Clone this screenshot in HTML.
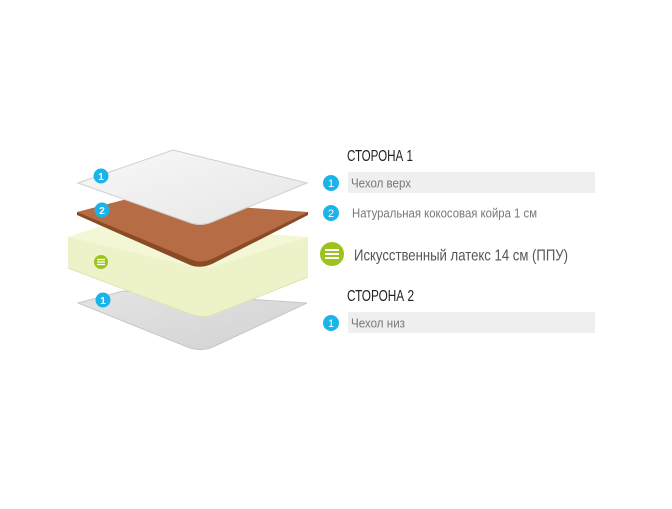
<!DOCTYPE html>
<html><head><meta charset="utf-8"><style>
body{margin:0;width:672px;height:504px;background:#fff;overflow:hidden;font-family:"Liberation Sans",sans-serif}
</style></head><body>
<svg width="672" height="504" viewBox="0 0 672 504" xmlns="http://www.w3.org/2000/svg">
<defs>
<linearGradient id="wt" x1="0" y1="0" x2="1" y2="1"><stop offset="0" stop-color="#f8f8f8"/><stop offset="1" stop-color="#e6e6e6"/></linearGradient>
<linearGradient id="bt" x1="0" y1="0" x2="1" y2="1"><stop offset="0" stop-color="#e4e4e4"/><stop offset="1" stop-color="#d2d2d2"/></linearGradient>
</defs>
<path d="M78,303 L123,291 L307,303 L215,346 Q203,352 190,348 Z" fill="url(#bt)" stroke="#c8c8c8" stroke-width="1"/>
<path d="M68,237 L68,268 L190,314 Q203,319 215,314 L308,277 L308,237 Z" fill="#eef2c8"/>
<path d="M68,237 L113,222 L308,237 L215,266 Q203,270 190,266 Z" fill="#f4f7d6"/>
<path d="M68,268 L190,314 Q203,319 215,314 L308,277" fill="none" stroke="#dfe4b0" stroke-width="1"/>
<path d="M77,212 L77,215 L190,265 Q200,269 212,264 L308,215 L308,212 Z" fill="#8a4a26"/>
<path d="M77,212 L127,199 L308,212 L212,259 Q200,264 190,259 Z" fill="#b66d45"/>
<path d="M78,183 L173,150 L307,183 L212,222 Q200,227 188,222 Z" fill="url(#wt)" stroke="#cfcfcf" stroke-width="1"/>
<g font-size="10" fill="#fff" text-anchor="middle" font-weight="bold">
<circle cx="101" cy="176" r="7.5" fill="#1ab4ea"/><text x="101" y="180">1</text>
<circle cx="102" cy="210" r="7.5" fill="#1ab4ea"/><text x="102" y="214">2</text>
<circle cx="103" cy="300" r="7.5" fill="#1ab4ea"/><text x="103" y="304">1</text>
</g>
<circle cx="101" cy="262" r="7" fill="#9bc31c"/>
<g stroke="#fff" stroke-width="1.3"><line x1="97" y1="259.5" x2="105" y2="259.5"/><line x1="97" y1="262" x2="105" y2="262"/><line x1="97" y1="264.5" x2="105" y2="264.5"/></g>
<text x="347" y="161" font-size="16" fill="#222" textLength="66" lengthAdjust="spacingAndGlyphs">СТОРОНА 1</text>
<rect x="348" y="172" width="247" height="21" fill="#efefef"/>
<circle cx="331" cy="183" r="8" fill="#1ab4ea"/><text x="331" y="187" font-size="11" fill="#fff" text-anchor="middle">1</text>
<text x="351" y="187.5" font-size="13" fill="#777" textLength="60" lengthAdjust="spacingAndGlyphs">Чехол верх</text>
<circle cx="331" cy="213" r="8" fill="#1ab4ea"/><text x="331" y="217" font-size="11" fill="#fff" text-anchor="middle">2</text>
<text x="352" y="217.5" font-size="13" fill="#777" textLength="185" lengthAdjust="spacingAndGlyphs">Натуральная кокосовая койра 1 см</text>
<circle cx="332" cy="254" r="12" fill="#9bc31c"/>
<g stroke="#fff" stroke-width="2"><line x1="325" y1="250" x2="339" y2="250"/><line x1="325" y1="254" x2="339" y2="254"/><line x1="325" y1="258" x2="339" y2="258"/></g>
<text x="354" y="260.5" font-size="16" fill="#555" textLength="214" lengthAdjust="spacingAndGlyphs">Искусственный латекс 14 см (ППУ)</text>
<text x="347" y="301" font-size="16" fill="#222" textLength="67" lengthAdjust="spacingAndGlyphs">СТОРОНА 2</text>
<rect x="348" y="312" width="247" height="21" fill="#efefef"/>
<circle cx="331" cy="323" r="8" fill="#1ab4ea"/><text x="331" y="327" font-size="11" fill="#fff" text-anchor="middle">1</text>
<text x="351" y="327.5" font-size="13" fill="#777" textLength="54" lengthAdjust="spacingAndGlyphs">Чехол низ</text>
</svg>
</body></html>
